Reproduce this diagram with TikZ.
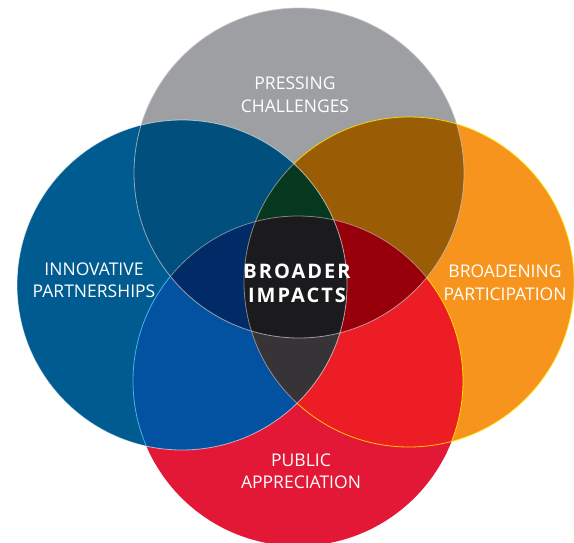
\documentclass[tikz,border=0pt]{standalone}
\usepackage{fontspec}
\setmainfont{Open Sans}
\newfontfamily\centerfont{Open Sans}[LetterSpace=10]
\definecolor{cgrey}{HTML}{9D9FA2}
\definecolor{cblue}{HTML}{005B91}
\definecolor{corange}{HTML}{F7941D}
\definecolor{cred}{HTML}{E31837}
\definecolor{cgb}{HTML}{004F7D}
\definecolor{cgo}{HTML}{9A5C04}
\definecolor{cbr}{HTML}{0352A1}
\definecolor{cor}{HTML}{ED1D25}
\definecolor{cgbr}{HTML}{002B67}
\definecolor{cgbo}{HTML}{063820}
\definecolor{cgor}{HTML}{97000B}
\definecolor{cbor}{HTML}{373438}
\definecolor{call}{HTML}{1B1A1D}
\definecolor{lgrey}{HTML}{C4C5C8}
\definecolor{lcyan}{HTML}{3FB5EA}
\definecolor{lyellow}{HTML}{FFE400}
\begin{document}
\begin{tikzpicture}[x=1pt,y=-1pt,
  label/.style={text=white,align=center,inner sep=0pt,
    font=\fontsize{17.5}{22.5}\selectfont},
  biglabel/.style={text=white,align=center,inner sep=0pt,
    font=\centerfont\bfseries\fontsize{20}{24}\selectfont},
  edge/.style={line width=0.8pt}]
\useasboundingbox (0,0) rectangle (574,542);
\def\cG{(299,173) circle[radius=165pt]}
\def\cB{(182,285) circle[radius=165pt]}
\def\cO{(409,282) circle[radius=165pt]}
\def\cR{(298,381) circle[radius=165pt]}
\def\cAll{(-20,-20) rectangle (600,600)}
% single circles
\fill[cgrey] \cG;
\fill[cblue] \cB;
\fill[corange] \cO;
\fill[cred] \cR;
% pairs
\begin{scope}\clip \cG; \fill[cgb] \cB; \fill[cgo] \cO; \end{scope}
\begin{scope}\clip \cR; \fill[cbr] \cB; \fill[cor] \cO; \end{scope}
% triples
\begin{scope}\clip \cG; \clip \cB; \fill[cgbr] \cR; \fill[cgbo] \cO; \end{scope}
\begin{scope}\clip \cO; \clip \cR; \fill[cgor] \cG; \fill[cbor] \cB; \end{scope}
% all four
\begin{scope}\clip \cG; \clip \cB; \clip \cO; \fill[call] \cR; \end{scope}
% outlines
\draw[edge,lgrey,opacity=0.75] \cG;
\draw[edge,white,opacity=0.6] \cB;
% red outline: cyan in blue outside grey, yellow in orange outside grey, grey inside grey
\begin{scope}[even odd rule]\clip \cB; \clip \cAll \cG; \draw[edge,lcyan] \cR; \end{scope}
\begin{scope}[even odd rule]\clip \cO; \clip \cAll \cG; \draw[edge,lyellow] \cR; \end{scope}
\begin{scope}\clip \cG; \draw[edge,lgrey,opacity=0.6] \cR; \end{scope}
% orange outline: yellow outside blue, light inside blue
\begin{scope}[even odd rule]\clip \cAll \cB; \draw[edge,lyellow,opacity=0.85] \cO; \end{scope}
\begin{scope}\clip \cB; \draw[edge,lgrey,opacity=0.6] \cO; \end{scope}
% labels
\node[label] (pressing) at (295,94.75) {PRESSING\\CHALLENGES};
\node[label] (innov) at (94,280.25) {INNOVATIVE\\PARTNERSHIPS};
\node[label] (broad) at (505,282.75) {BROADENING\\PARTICIPATION};
\node[label] (public) at (301,471.25) {PUBLIC\\APPRECIATION};
\node[biglabel] (impacts) at (297,282.85) {BROADER\\IMPACTS};
\end{tikzpicture}
\end{document}
